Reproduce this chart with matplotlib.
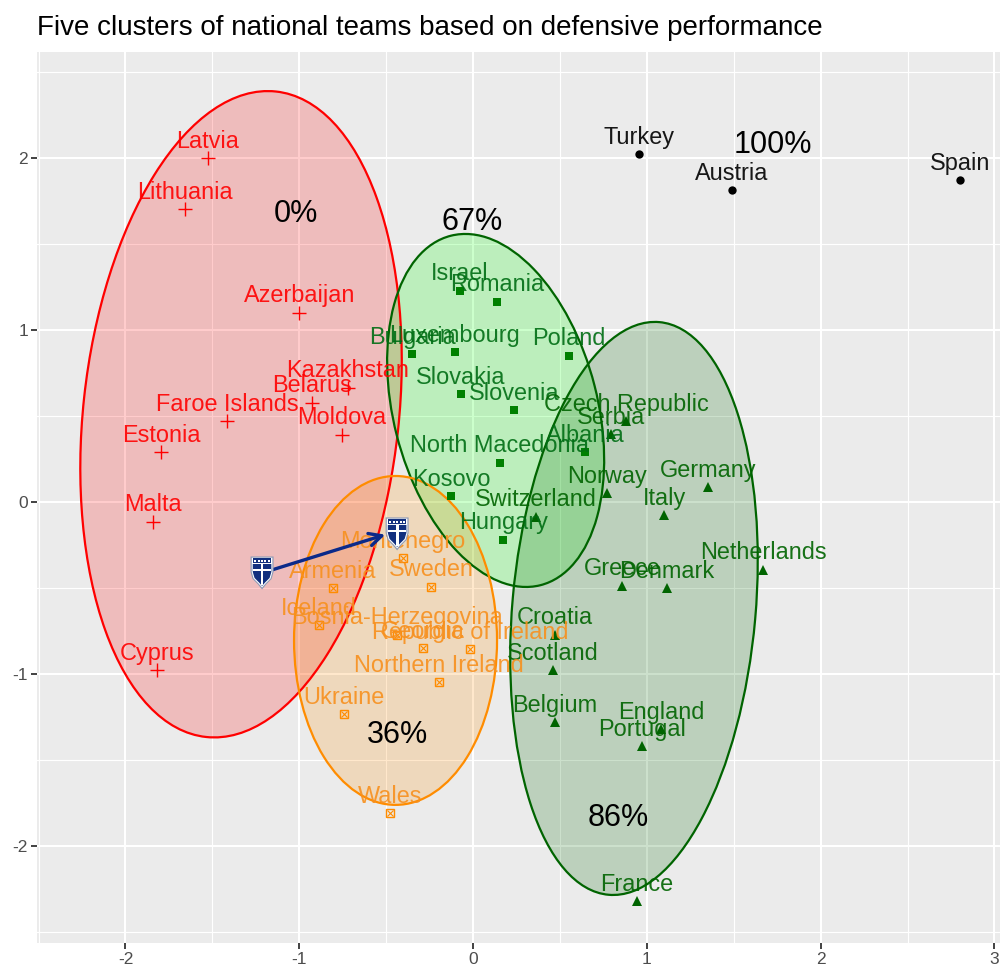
import matplotlib
matplotlib.use("Agg")
import matplotlib.pyplot as plt
from matplotlib.patches import Ellipse, Polygon, Rectangle
from matplotlib.transforms import Affine2D, ScaledTranslation

plt.rcParams['font.family'] = ['Liberation Sans', 'DejaVu Sans']
plt.rcParams['axes.unicode_minus'] = False

title = 'Five clusters of national teams based on defensive performance'

# Cluster members
red_names = ['Latvia', 'Lithuania', 'Azerbaijan', 'Kazakhstan', 'Belarus', 'Faroe Islands',
             'Moldova', 'Estonia', 'Malta', 'Cyprus']
red_x = [-1.525, -1.657, -1.0, -0.72, -0.926, -1.415, -0.754, -1.795, -1.84, -1.818]
red_y = [2.0, 1.703, 1.10, 0.663, 0.576, 0.47, 0.39, 0.29, -0.116, -0.977]

green_names = ['Israel', 'Romania', 'Bulgaria', 'Luxembourg', 'Poland', 'Slovakia', 'Slovenia',
               'North Macedonia', 'Albania', 'Kosovo', 'Hungary']
green_x = [-0.075, 0.138, -0.351, -0.104, 0.552, -0.069, 0.236, 0.155, 0.644, -0.127, 0.173]
green_y = [1.227, 1.163, 0.86, 0.872, 0.849, 0.628, 0.535, 0.227, 0.29, 0.035, -0.22]

dark_names = ['Czech Republic', 'Serbia', 'Norway', 'Germany', 'Italy', 'Switzerland', 'Netherlands',
              'Greece', 'Denmark', 'Croatia', 'Scotland', 'Belgium', 'England', 'Portugal', 'France']
dark_x = [0.88, 0.794, 0.771, 1.352, 1.099, 0.362, 1.669, 0.857, 1.116, 0.472, 0.46, 0.472, 1.082, 0.972, 0.944]
dark_y = [0.47, 0.395, 0.052, 0.087, -0.076, -0.087, -0.395, -0.488, -0.5, -0.773, -0.977, -1.279,
          -1.32, -1.419, -2.32]

orange_names = ['Montenegro', 'Armenia', 'Sweden', 'Iceland', 'Bosnia-Herzegovina', 'Georgia',
                'Republic of Ireland', 'Northern Ireland', 'Ukraine', 'Wales']
orange_x = [-0.403, -0.806, -0.242, -0.886, -0.437, -0.288, -0.017, -0.196, -0.742, -0.478]
orange_y = [-0.326, -0.5, -0.494, -0.715, -0.773, -0.849, -0.855, -1.047, -1.233, -1.808]

black_names = ['Turkey', 'Austria', 'Spain']
black_x = [0.955, 1.49, 2.802]
black_y = [2.023, 1.814, 1.872]

# Ellipses: centre x, centre y, width, height, angle
red_ell = [-1.335, 0.51, 3.774, 1.816, 83.9]
green_ell = [0.13, 0.532, 2.096, 1.174, 104.2]
dark_ell = [0.926, -0.619, 3.342, 1.40, 85.0]
orange_ell = [-0.446, -0.805, 1.912, 1.168, 90.0]

# Percentages
pct_labels = ['0%', '67%', '100%', '36%', '86%']
pct_x = [-1.02, -0.005, 1.726, -0.437, 0.834]
pct_y = [1.675, 1.625, 2.075, -1.355, -1.838]

# Finland's move
shield_x = [-1.214, -0.437]
shield_y = [-0.407, -0.18]
arrow_start = (-1.157, -0.395)
arrow_end = (-0.505, -0.19)

xticks = [-2, -1, 0, 1, 2, 3]
yticks = [-2, -1, 0, 1, 2]
xminor = [-2.5, -1.5, -0.5, 0.5, 1.5, 2.5]
yminor = [-2.5, -1.5, -0.5, 0.5, 1.5, 2.5]

RED = '#FF0000'
GREEN_LABEL = '#006E14'
GREEN_MARK = '#008000'
DARK = '#006400'
ORANGE = '#FF8C00'
ORANGE_LABEL = '#F7901E'

fig = plt.figure(figsize=(10, 9.67), dpi=100)
ax = fig.add_axes([0.037, 24 / 967, 0.963, 891 / 967])
ax.set_xlim(-2.509, 3.032)
ax.set_ylim(-2.564, 2.616)
ax.set_facecolor('#EBEBEB')
for s in ax.spines.values():
    s.set_visible(False)
ax.set_axisbelow(True)
ax.set_xticks(xticks)
ax.set_yticks(yticks)
ax.set_xticks(xminor, minor=True)
ax.set_yticks(yminor, minor=True)
ax.grid(True, which='major', color='white', lw=1.5)
ax.grid(True, which='minor', color='white', lw=0.8)
ax.tick_params(which='minor', length=0)
ax.tick_params(which='major', length=4, width=1.3, color='#333333', labelcolor='#4D4D4D',
               labelsize=12.5, pad=2.5)

fig.text(0.037, 0.971, title, fontsize=19.95, color='black', va='center', ha='left')


def draw_ellipse(e, fill, line):
    ax.add_patch(Ellipse((e[0], e[1]), e[2], e[3], angle=e[4], facecolor=fill, alpha=0.2,
                         edgecolor='none', zorder=2))
    ax.add_patch(Ellipse((e[0], e[1]), e[2], e[3], angle=e[4], facecolor='none', edgecolor=line,
                         lw=1.6, zorder=3))


draw_ellipse(red_ell, RED, RED)
draw_ellipse(green_ell, '#00FF00', DARK)
draw_ellipse(dark_ell, DARK, DARK)
draw_ellipse(orange_ell, ORANGE, ORANGE)


def draw_labels(names, xs, ys, color):
    for name, x, y in zip(names, xs, ys):
        ax.annotate(name, (x, y), xytext=(0, 12.2), textcoords='offset points', ha='center',
                    va='center', fontsize=16.9, color=color, zorder=6, alpha=0.9)


ax.plot(red_x, red_y, ls='', marker='+', ms=9.5, mew=1.0, color=RED, zorder=5)
ax.plot(green_x, green_y, ls='', marker='s', ms=5.5, color=GREEN_MARK, mew=0, zorder=5)
ax.plot(dark_x, dark_y, ls='', marker='^', ms=7, color=DARK, mew=0, zorder=5)
ax.plot(orange_x, orange_y, ls='', marker='s', ms=6, mfc='none', mec=ORANGE, mew=1, zorder=5)
ax.plot(orange_x, orange_y, ls='', marker='x', ms=5, color=ORANGE, mew=0.8, zorder=5)
ax.plot(black_x, black_y, ls='', marker='o', ms=6, color='black', mew=0, zorder=5)

draw_labels(red_names, red_x, red_y, RED)
draw_labels(green_names, green_x, green_y, GREEN_LABEL)
draw_labels(dark_names, dark_x, dark_y, DARK)
draw_labels(orange_names, orange_x, orange_y, ORANGE_LABEL)
draw_labels(black_names, black_x, black_y, 'black')

for label, x, y in zip(pct_labels, pct_x, pct_y):
    ax.text(x, y, label, fontsize=22, color='black', ha='center', va='center', zorder=7)

ax.annotate('', xy=arrow_end, xytext=arrow_start, zorder=8,
            arrowprops=dict(arrowstyle='->,head_length=0.9,head_width=0.45', color='#0B2A8A', lw=2.4,
                            shrinkA=0, shrinkB=0))

# Shield outlines in pixels around the centre
outer = [(-11.5, 15.5), (11.5, 15.5), (11.5, 0), (9.5, -7), (4.5, -12), (0, -17.5), (-4.5, -12), (-9.5, -7), (-11.5, 0)]
inner = [(-10.3, 14.3), (10.3, 14.3), (10.3, 0), (8.5, -6.5), (3.5, -11.5), (0, -15.5), (-3.5, -11.5), (-8.5, -6.5), (-10.3, 0)]
field = [(-9.3, 8), (9.3, 8), (9.3, 0), (7.5, -6), (3, -10.5), (0, -14), (-3, -10.5), (-7.5, -6), (-9.3, 0)]
BLUE = '#12307F'
for sx, sy in zip(shield_x, shield_y):
    tr = Affine2D() + ScaledTranslation(sx, sy, ax.transData)
    ax.add_patch(Polygon(outer, closed=True, facecolor='#8E9AB5', edgecolor='none', transform=tr, zorder=9))
    ax.add_patch(Polygon(inner, closed=True, facecolor='white', edgecolor='none', transform=tr, zorder=9))
    ax.add_patch(Rectangle((-9.3, 9.3), 18.6, 4.2, facecolor=BLUE, edgecolor='none', transform=tr, zorder=10))
    for dx in (-6.8, -3.4, 0, 3.4, 6.8):
        ax.add_patch(Rectangle((dx - 1, 10.4), 2, 2, facecolor='white', edgecolor='none',
                               transform=tr, zorder=11))
    ax.add_patch(Polygon(field, closed=True, facecolor=BLUE, edgecolor='none', transform=tr, zorder=10))
    ax.add_patch(Rectangle((-9.3, 0.5), 18.6, 2.8, facecolor='white', edgecolor='none', transform=tr, zorder=11))
    ax.add_patch(Rectangle((-1.4, -13), 2.8, 21, facecolor='white', edgecolor='none', transform=tr, zorder=11))

fig.savefig('out.png', dpi=100)
